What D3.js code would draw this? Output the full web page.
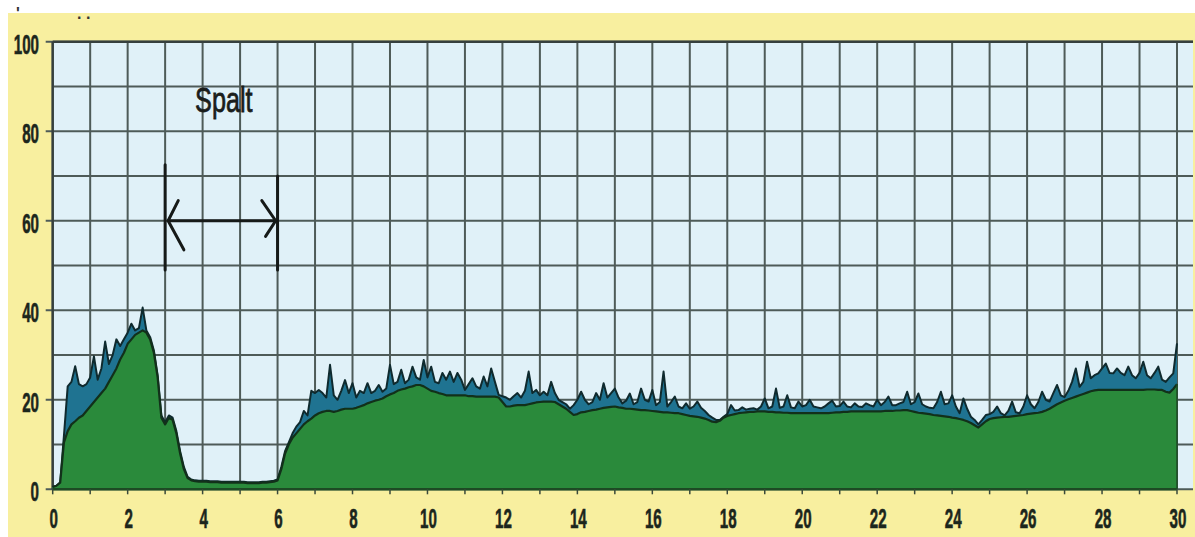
<!DOCTYPE html>
<html>
<head>
<meta charset="utf-8">
<script src="https://cdn.jsdelivr.net/npm/d3@7"></script>
<style>
  html, body { margin: 0; padding: 0; background: #ffffff; }
  svg { display: block; }
</style>
</head>
<body>
<svg id="chart" width="1195" height="537"></svg>
<script>
// ---------- DATA (x step 0.1 from 0 to 30) ----------
const lowerSeries = [
  0.5, 0.8, 1.5, 10.5, 13, 14.5, 15.2, 16, 16.5, 17.5,
  18.5, 19.5, 20.5, 21.5, 22.5, 24, 25.5, 27, 29, 30.5,
  32.5, 33.5, 34.5, 35, 35.5, 35, 33.5, 30.5, 25, 16,
  14.5, 16, 15.5, 12.5, 8, 4.5, 2.5, 2, 1.8, 1.7,
  1.7, 1.7, 1.6, 1.6, 1.6, 1.5, 1.5, 1.5, 1.5, 1.5,
  1.5, 1.5, 1.4, 1.4, 1.4, 1.4, 1.5, 1.5, 1.6, 1.7,
  2.0, 4.5, 8, 10, 11.5, 12.5, 13.5, 14.5, 15.2, 15.8,
  16.5, 17, 17.3, 17.5, 17.5, 17.3, 17.5, 17.8, 18, 18,
  18, 18.2, 18.5, 18.8, 19.2, 19.5, 19.8, 20, 20.3, 20.8,
  21.2, 21.5, 22, 22.3, 22.5, 22.8, 23, 23.3, 23.3, 23,
  22.5, 22, 21.8, 21.5, 21.3, 21, 21, 21, 21, 21,
  21, 20.8, 20.8, 20.7, 20.7, 20.7, 20.7, 20.7, 20.7, 20.5,
  19.5, 18.5, 18.5, 18.7, 18.8, 18.8, 18.8, 19, 19.2, 19.4,
  19.5, 19.6, 19.6, 19.6, 19.5, 19, 18.5, 18, 17.3, 16.6,
  16.8, 17.2, 17.3, 17.5, 17.7, 17.8, 18, 18.2, 18.3, 18.4,
  18.5, 18.3, 18.2, 18, 18, 17.9, 17.8, 17.7, 17.7, 17.6,
  17.5, 17.4, 17.3, 17.2, 17.2, 17.1, 17, 17, 16.8, 16.6,
  16.4, 16.3, 16.2, 16.0, 15.8, 15.5, 15.1, 15.0, 15.3, 16.0,
  16.4, 16.6, 16.8, 17, 17.1, 17.2, 17.3, 17.3, 17.4, 17.4,
  17.4, 17.3, 17.3, 17.2, 17.2, 17.1, 17.1, 17, 17, 17,
  17, 17, 17, 17, 17, 17, 17, 17, 17.1, 17.2,
  17.2, 17.3, 17.3, 17.4, 17.4, 17.4, 17.4, 17.4, 17.4, 17.4,
  17.4, 17.4, 17.5, 17.5, 17.5, 17.6, 17.6, 17.7, 17.7, 17.5,
  17.3, 17.1, 17, 16.9, 16.8, 16.6, 16.5, 16.4, 16.3, 16.2,
  16, 15.9, 15.7, 15.5, 15.2, 14.8, 14.3, 13.8, 14.5, 15.2,
  15.7, 15.9, 16, 16.1, 16.2, 16.2, 16.3, 16.4, 16.5, 16.6,
  16.8, 16.9, 17, 17.1, 17.3, 17.6, 18, 18.5, 19, 19.4,
  19.8, 20.1, 20.4, 20.7, 21, 21.3, 21.6, 21.9, 22.1, 22.2,
  22.2, 22.2, 22.2, 22.2, 22.2, 22.2, 22.2, 22.2, 22.2, 22.2,
  22.2, 22.2, 22.3, 22.3, 22.3, 22.2, 22.2, 21.8, 21.6, 22.4,
  23.5
];

const upperSeries = [
  0.5, 0.8, 1.5, 12, 23, 24, 27.5, 23.5, 23, 23.5,
  25, 29.7, 24.5, 27, 33, 28, 30, 33.5, 32, 33.5,
  35, 37, 35.5, 36, 40.6, 35.5, 34, 31, 25.5, 16.5,
  15, 16.5, 16, 13, 8.5, 5, 2.8, 2.2, 2.0, 1.9,
  1.9, 1.9, 1.8, 1.8, 1.8, 1.7, 1.7, 1.7, 1.7, 1.7,
  1.7, 1.7, 1.6, 1.6, 1.6, 1.6, 1.7, 1.7, 1.8, 1.9,
  2.2, 5, 8.5, 10.5, 12.5, 14, 15, 17.5, 16.5, 22,
  21.5, 22.2, 21.5, 20.5, 27.8, 21, 20, 22, 24.4, 21.5,
  23.7, 20.5, 22, 21.5, 23.7, 21.5, 22, 23.3, 21.8, 22.5,
  27.8, 23.5, 24, 26.7, 23.7, 24.5, 27.4, 25, 24.5, 28.9,
  25, 27.4, 24, 23.7, 26, 24.5, 26.3, 24, 26, 24.5,
  22.2, 23.5, 24.8, 23, 22.5, 25.2, 23, 27, 24, 21.1,
  20.8, 20.5, 20, 20.8, 21.5, 20.5, 22, 26.3, 21.5, 22.2,
  21, 21.8, 21, 24, 21.5, 20, 19.5, 19, 18, 18.8,
  20, 21.8, 20, 19, 19.5, 21.5, 20, 23.7, 20.5, 21.5,
  22.5, 20.5, 19.2, 19.8, 21.4, 19, 19.5, 22.5, 20, 19.6,
  22.2, 18.8, 19.5, 26.3, 18.5, 19.5, 20.7, 18.5, 18.1, 19.2,
  18, 18.5, 19.6, 18.2, 17.5, 16.6, 16, 15.5, 15.5, 16.2,
  16.8, 18.8, 17.6, 17.7, 18.3, 17.8, 18, 18.1, 17.8, 18.5,
  20.3, 18.1, 18.5, 22.5, 18.2, 18.5, 21, 18.3, 18.1, 19.6,
  18.5, 18.8, 20, 18.5, 18.3, 18.1, 18.5, 19.2, 19.8, 18.5,
  18.6, 19.6, 18.5, 18.3, 19.2, 18.5, 18.4, 19.2, 18.8, 18.5,
  20, 18.8, 19.5, 20.7, 18.8, 18.8, 19.2, 19.5, 21.8, 19,
  19.5, 21.4, 19, 18.5, 18.2, 18.1, 19.5, 21.8, 19, 19.2,
  21, 18.5, 17, 20.3, 18, 16.2, 15.5, 14.5, 15.5, 16.6,
  16.8, 17.3, 18.5, 17, 16.5, 17.5, 19.6, 17.2, 17, 18.5,
  21, 19, 18.1, 19.5, 21.8, 20, 19.6, 21.5, 23.3, 21,
  20.6, 22, 24, 27, 22.9, 24, 28.5, 24.8, 25.5, 25.9,
  27, 28.1, 26, 25.9, 27, 26, 25.5, 27.4, 25.5, 24.8,
  26, 28.5, 25.5, 24.8, 26, 27.4, 24.5, 24, 25, 25.9,
  32.6
];

const xStep = 0.1;
const xTickLabels = [0, 2, 4, 6, 8, 10, 12, 14, 16, 18, 20, 22, 24, 26, 28, 30];
const yTickLabels = [0, 20, 40, 60, 80, 100];
const xGridValues = d3.range(0, 31, 1);
const yGridValues = d3.range(0, 101, 10);

// annotation ("Spalt" gap) in data units
const annotationText = "Spalt";
const annotationTextPos = [3.8, 84.3];
const gapBars = [ {x: 3, y0: 49, y1: 72.5}, {x: 6, y0: 49, y1: 70} ];
const gapArrow = {x0: 3.08, x1: 5.95, y: 60};
const arrowHeads = [
  [[3.35, 64.5], [3.08, 60], [3.5, 53.5]],
  [[5.58, 64.5], [5.95, 60], [5.68, 56.5]]
];

// ---------- DRAW ----------
const W = 1195, H = 537;
const svg = d3.select("#chart");

const x = d3.scaleLinear().domain([0, 30]).range([52.7, 1177]);
const y = d3.scaleLinear().domain([0, 100]).range([489.3, 41.7]);
const plotRight = 1193;

const lowerPts = lowerSeries.map((v, i) => ({x: i * xStep, v}));
const upperPts = upperSeries.map((v, i) => ({x: i * xStep, v}));

// page background + yellow frame
svg.append("rect").attr("width", W).attr("height", H).attr("fill", "#ffffff");
svg.append("rect").attr("x", 8).attr("y", 13).attr("width", W - 8).attr("height", H - 13)
  .attr("fill", "#f8ef9f");

// stray marks at the top (remnants of cropped text)
svg.append("text").attr("x", 16).attr("y", 19).attr("font-family", "Liberation Sans")
  .attr("font-size", 16).attr("font-weight", "bold").attr("fill", "#333").text("'");
svg.append("text").attr("x", 77).attr("y", 19).attr("font-family", "Liberation Sans")
  .attr("font-size", 16).attr("font-weight", "bold").attr("fill", "#333").text(". .");

// plot background
svg.append("rect")
  .attr("x", x(0)).attr("y", y(100))
  .attr("width", plotRight - x(0)).attr("height", y(0) - y(100))
  .attr("fill", "#e0f1f8");

// grid
const grid = svg.append("g").attr("stroke", "#4e5b58").attr("stroke-width", 2);
grid.selectAll("line.v").data(xGridValues).join("line").attr("class", "v")
  .attr("x1", d => x(d)).attr("x2", d => x(d))
  .attr("y1", y(100)).attr("y2", y(0));
grid.selectAll("line.h").data(yGridValues).join("line").attr("class", "h")
  .attr("x1", d => (d % 20 === 0 ? x(0) - 7 : x(0))).attr("x2", plotRight)
  .attr("y1", d => y(d)).attr("y2", d => y(d));
// emphasised left axis and top line
svg.append("line").attr("x1", x(0)).attr("x2", x(0)).attr("y1", y(100)).attr("y2", y(0))
  .attr("stroke", "#36403e").attr("stroke-width", 2.4);
svg.append("line").attr("x1", x(0)).attr("x2", plotRight).attr("y1", y(100)).attr("y2", y(100))
  .attr("stroke", "#36403e").attr("stroke-width", 2.4);

// areas
const area = d3.area().x(d => x(d.x)).y0(y(0)).y1(d => y(d.v)).curve(d3.curveLinear);
const line = d3.line().x(d => x(d.x)).y(d => y(d.v)).curve(d3.curveLinear);

svg.append("path").datum(upperPts).attr("d", area).attr("fill", "#1f7391");
svg.append("path").datum(upperPts).attr("d", line).attr("fill", "none")
  .attr("stroke", "#0f2a2e").attr("stroke-width", 2).attr("stroke-linejoin", "round");

svg.append("path").datum(lowerPts).attr("d", area).attr("fill", "#2a8a3b");
svg.append("path").datum(lowerPts).attr("d", line).attr("fill", "none")
  .attr("stroke", "#12301a").attr("stroke-width", 2.2).attr("stroke-linejoin", "round");

// base line and right edge of the fill
svg.append("line").attr("x1", x(0)).attr("x2", x(30)).attr("y1", y(0)).attr("y2", y(0))
  .attr("stroke", "#1d4a24").attr("stroke-width", 2.4);
svg.append("line").attr("x1", x(30)).attr("x2", x(30)).attr("y1", y(0)).attr("y2", y(lowerSeries[lowerSeries.length - 1]))
  .attr("stroke", "#1d4a24").attr("stroke-width", 1.5);

// small ticks under the x axis
svg.append("g").selectAll("line").data(xGridValues).join("line")
  .attr("x1", d => x(d)).attr("x2", d => x(d))
  .attr("y1", y(0)).attr("y2", y(0) + 5)
  .attr("stroke", "#3a4a3a").attr("stroke-width", 1.5);

// tick labels (bold, condensed)
const labelFont = "'Liberation Sans', Arial, sans-serif";
svg.append("g").selectAll("text").data(xTickLabels).join("text")
  .attr("transform", d => `translate(${x(d) + 1},528) scale(0.56,1)`)
  .attr("text-anchor", "middle")
  .attr("font-family", labelFont).attr("font-weight", "bold").attr("font-size", 27)
  .attr("fill", "#1c261c").attr("stroke", "#1c261c").attr("stroke-width", 0.6)
  .text(d => d);

svg.append("g").selectAll("text").data(yTickLabels).join("text")
  .attr("transform", d => `translate(39,${y(d) + 12}) scale(0.56,1)`)
  .attr("text-anchor", "end")
  .attr("font-family", labelFont).attr("font-weight", "bold").attr("font-size", 27)
  .attr("fill", "#1c261c").attr("stroke", "#1c261c").attr("stroke-width", 0.6)
  .text(d => d);

// annotation
const ann = svg.append("g").attr("stroke", "#161a18").attr("fill", "none")
  .attr("stroke-width", 3).attr("stroke-linecap", "round");
ann.selectAll("line.bar").data(gapBars).join("line").attr("class", "bar")
  .attr("x1", d => x(d.x)).attr("x2", d => x(d.x))
  .attr("y1", d => y(d.y1)).attr("y2", d => y(d.y0));
ann.append("line")
  .attr("x1", x(gapArrow.x0)).attr("x2", x(gapArrow.x1))
  .attr("y1", y(gapArrow.y)).attr("y2", y(gapArrow.y));
ann.selectAll("path.head").data(arrowHeads).join("path").attr("class", "head")
  .attr("d", d => d3.line().x(p => x(p[0])).y(p => y(p[1]))(d))
  .attr("stroke-linejoin", "round");

svg.append("text")
  .attr("transform", `translate(${x(annotationTextPos[0])},${y(annotationTextPos[1])}) scale(0.7,1)`)
  .attr("font-family", labelFont).attr("font-size", 36)
  .attr("fill", "#1a1d1b").attr("stroke", "#1a1d1b").attr("stroke-width", 0.8)
  .text(annotationText);
</script>
</body>
</html>
